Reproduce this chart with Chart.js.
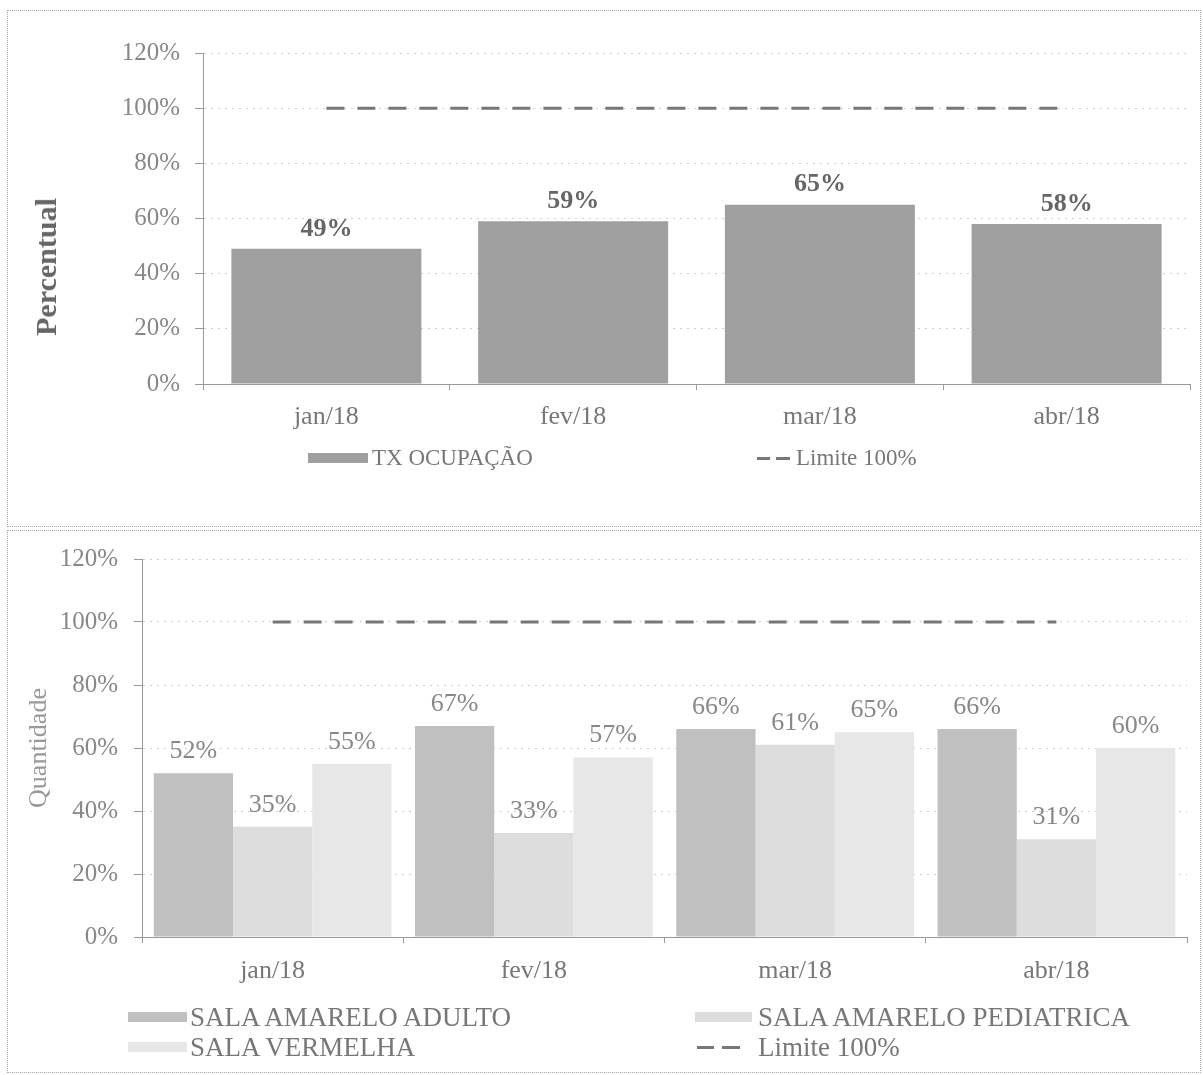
<!DOCTYPE html>
<html>
<head>
<meta charset="utf-8">
<script src="https://cdn.jsdelivr.net/npm/chart.js@4"></script>
<style>
  body { margin: 0; background: #fff; font-family: "Liberation Serif", "DejaVu Serif", serif; }
  #page { position: relative; width: 1203px; height: 1075px; overflow: hidden; }
  .box { position: absolute; border: 1px dotted #a8a8a8; }
  canvas { position: absolute; left: 0; }
  .lg { position: absolute; display: flex; align-items: center; height: 30px; color: #777; white-space: nowrap; }
  .ytitle { position: absolute; transform: translate(-50%, -50%) rotate(-90deg); white-space: nowrap; }
</style>
</head>
<body>
<div id="page">
  <div class="box" style="left:7px; top:10px; width:1192px; height:515px;"></div>
  <div class="box" style="left:7px; top:530px; width:1192px; height:541px;"></div>
  <canvas id="top" width="1203" height="528" style="top:0"></canvas>
  <canvas id="bottom" width="1203" height="547" style="top:528px"></canvas>
  <div class="ytitle" style="left:46px; top:267px; font-size:30px; font-weight:bold; color:#666;">Percentual</div>
</div>
<script>
const MONTHS = ['jan/18', 'fev/18', 'mar/18', 'abr/18'];
const TX_OCUPACAO = [49, 59, 65, 58];
const LIMITE = [100, 100, 100, 100];
const AMARELO_ADULTO = [52, 67, 66, 66];
const AMARELO_PEDIATRICA = [35, 33, 61, 31];
const VERMELHA = [55, 57, 65, 60];
const Y_MAX = 120;
const Y_STEP = 20;

const SERIF = '"Liberation Serif", "DejaVu Serif", serif';

// draws the "49%" style labels above each bar
const valueLabels = {
  id: 'valueLabels',
  afterDatasetsDraw(chart, _args, opts) {
    const ctx = chart.ctx;
    ctx.save();
    ctx.font = `${opts.weight} ${opts.size}px ${SERIF}`;
    ctx.fillStyle = opts.color;
    ctx.textAlign = 'center';
    ctx.textBaseline = 'middle';
    chart.data.datasets.forEach((ds, i) => {
      if (ds.type === 'line') return;
      chart.getDatasetMeta(i).data.forEach((bar, j) => {
        ctx.fillText(ds.data[j] + '%', bar.x, bar.y - opts.offset);
      });
    });
    ctx.restore();
  }
};

function makeScales(c) {
  return {
    x: {
      grid: { drawOnChartArea: false, offset: true, tickLength: 6, color: '#999' },
      border: { color: '#999' },
      ticks: { color: '#777', font: { family: SERIF, size: 26 }, padding: c.xPad },
      afterFit: s => { s.height = c.xHeight; }
    },
    y: {
      min: 0,
      max: Y_MAX,
      ticks: { stepSize: Y_STEP, color: '#888', font: { family: SERIF, size: 25 }, padding: c.yPad, callback: v => v + '%' },
      grid: { color: '#cfcfcf', tickLength: 8, tickColor: '#999' },
      border: { color: '#999', dash: [2, 5] },
      title: {
        display: !!c.title, text: c.title, color: c.titleColor,
        font: { family: SERIF, size: c.titleSize, weight: c.titleWeight },
        padding: { top: c.titlePad, bottom: 0 }
      },
      afterFit: s => { s.width = c.yWidth; }
    }
  };
}

function limitLine(width) {
  return {
    type: 'line', label: 'Limite 100%', data: LIMITE,
    borderColor: '#777', borderWidth: width, borderDash: [18, 13],
    pointRadius: 0, fill: false, order: -1
  };
}

const topChart = new Chart(document.getElementById('top'), {
  type: 'bar',
  data: {
    labels: MONTHS,
    datasets: [
      { label: 'TX OCUPAÇÃO', data: TX_OCUPACAO, backgroundColor: '#9f9f9f', barPercentage: 0.77, categoryPercentage: 1 },
      limitLine(3)
    ]
  },
  options: {
    responsive: false,
    animation: false,
    layout: { padding: { left: 0, right: 13, top: 53, bottom: 0 } },
    plugins: {
      legend: { display: false },
      tooltip: { enabled: false },
      valueLabels: { size: 26, weight: 'bold', color: '#666', offset: 20 }
    },
    // axis title "Percentual" sits lower than centre in the original, placed as HTML above
    scales: makeScales({ xPad: 12, xHeight: 144, yPad: 15, yWidth: 203, title: '' })
  },
  plugins: [valueLabels]
});

const bottomChart = new Chart(document.getElementById('bottom'), {
  type: 'bar',
  data: {
    labels: MONTHS,
    datasets: [
      { label: 'SALA AMARELO ADULTO', data: AMARELO_ADULTO, backgroundColor: '#c0c0c0' },
      { label: 'SALA AMARELO PEDIATRICA', data: AMARELO_PEDIATRICA, backgroundColor: '#dddddd' },
      { label: 'SALA VERMELHA', data: VERMELHA, backgroundColor: '#e7e7e7' },
      limitLine(3)
    ]
  },
  options: {
    responsive: false,
    animation: false,
    datasets: { bar: { barPercentage: 1, categoryPercentage: 0.91 } },
    layout: { padding: { left: 0, right: 16, top: 31, bottom: 0 } },
    plugins: {
      legend: { display: false },
      tooltip: { enabled: false },
      valueLabels: { size: 26, weight: 'normal', color: '#888', offset: 22 }
    },
    scales: makeScales({
      xPad: 13, xHeight: 138, yPad: 16, yWidth: 142,
      title: 'Quantidade', titleColor: '#999', titleSize: 26, titleWeight: 'normal', titlePad: 24
    })
  },
  plugins: [valueLabels]
});

// HTML legend, entries taken from the charts' datasets
function addLegend(chart, fontSize, entries) {
  const page = document.getElementById('page');
  entries.forEach(([idx, swLeft, swWidth, textLeft, centerY]) => {
    const ds = chart.data.datasets[idx];
    const sw = document.createElement('div');
    sw.style.position = 'absolute';
    sw.style.left = swLeft + 'px';
    sw.style.width = swWidth + 'px';
    if (ds.type === 'line') {
      sw.style.top = (centerY - 1.5) + 'px';
      sw.style.height = '3px';
      sw.style.background = `linear-gradient(to right, ${ds.borderColor} 0 40%, transparent 40% 58%, ${ds.borderColor} 58% 100%)`;
    } else {
      sw.style.top = (centerY - 5) + 'px';
      sw.style.height = '10px';
      sw.style.background = ds.backgroundColor;
    }
    page.appendChild(sw);
    const t = document.createElement('div');
    t.className = 'lg';
    t.style.fontSize = fontSize + 'px';
    t.style.left = textLeft + 'px';
    t.style.top = (centerY - 15) + 'px';
    t.textContent = ds.label;
    page.appendChild(t);
  });
}

addLegend(topChart, 23, [
  [0, 308, 60, 372, 458],
  [1, 757, 33, 796, 458]
]);
addLegend(bottomChart, 27, [
  [0, 128, 59, 190, 1017],
  [1, 695, 57, 758, 1017],
  [2, 128, 59, 190, 1047],
  [3, 697, 43, 758, 1047]
]);
</script>
</body>
</html>
